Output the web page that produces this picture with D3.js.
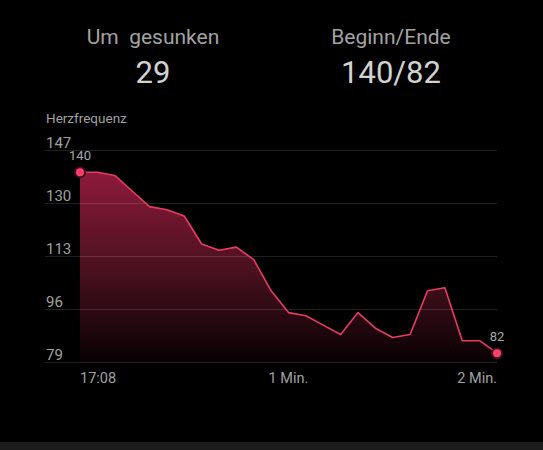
<!DOCTYPE html>
<html>
<head>
<meta charset="utf-8">
<script src="https://cdn.jsdelivr.net/npm/d3@7"></script>
<style>
  html, body { margin: 0; padding: 0; background: #000; overflow: hidden; }
  svg { display: block; font-family: Roboto, "Noto Sans", sans-serif; }
</style>
</head>
<body>
<div id="paper"></div>
<script>
// heart rate recovery chart, one sample every 5 s over 2 minutes

const heartRate = [140, 140, 139, 134, 129, 128, 126, 117, 115, 116, 112, 102, 95,
                   94, 91, 88, 95, 90, 87, 88, 102, 103, 86, 86, 82];
const stepSeconds = 5;
const yTicks = [147, 130, 113, 96, 79];
const xTicks = [0, 60, 120];
const xTickLabels = ["17:08", "1 Min.", "2 Min."];
const headTitles = ["Um  gesunken", "Beginn/Ende"];
const headValues = ["29", "140/82"];

const width = 543, height = 450;

const canvas = d3.select("#paper")
  .append("svg")
  .attr("width", width)
  .attr("height", height)
  .style("background-color", "#000");

const points = heartRate.map((v, i) => ({ t: i * stepSeconds, v: v }));

const x = d3.scaleLinear().domain([0, 120]).range([80, 497]);
const y = d3.scaleLinear().domain([79, 147]).range([362.5, 150.5]);

// header
const headX = [153, 391];
headTitles.forEach((t, i) => {
  canvas.append("text")
    .attr("x", headX[i]).attr("y", 44)
    .attr("text-anchor", "middle")
    .attr("font-size", 21)
    .attr("fill", "#a3a3a3")
    .style("white-space", "pre")
    .text(t);
  canvas.append("text")
    .attr("x", headX[i]).attr("y", 82.5)
    .attr("text-anchor", "middle")
    .attr("font-size", 31)
    .attr("fill", "#d2d2d2")
    .text(headValues[i]);
});

canvas.append("text")
  .attr("x", 46).attr("y", 123)
  .attr("font-size", 13.5)
  .attr("fill", "#a0a0a0")
  .text("Herzfrequenz");

// gradient for the area
const defs = canvas.append("defs");
const grad = defs.append("linearGradient")
  .attr("id", "fillGrad")
  .attr("gradientUnits", "userSpaceOnUse")
  .attr("x1", 0).attr("y1", y(140)).attr("x2", 0).attr("y2", y(79));
grad.append("stop").attr("offset", "0%").attr("stop-color", "#8e1a3a");
grad.append("stop").attr("offset", "55%").attr("stop-color", "#45101d");
grad.append("stop").attr("offset", "100%").attr("stop-color", "#080103");

const area = d3.area()
  .x(d => x(d.t))
  .y0(y(79))
  .y1(d => y(d.v));

canvas.append("path")
  .datum(points)
  .attr("d", area)
  .attr("fill", "url(#fillGrad)");

// grid + y labels
const grid = canvas.append("g");
grid.selectAll("line")
  .data(yTicks)
  .join("line")
  .attr("x1", 45).attr("x2", 497)
  .attr("y1", d => y(d)).attr("y2", d => y(d))
  .attr("stroke", "#ffffff")
  .attr("stroke-opacity", 0.13)
  .attr("stroke-width", 1);

grid.selectAll("text")
  .data(yTicks)
  .join("text")
  .attr("x", 46)
  .attr("y", d => y(d) - 3)
  .attr("font-size", 15)
  .attr("fill", "#a0a0a0")
  .text(d => d);

// line
const line = d3.line()
  .x(d => x(d.t))
  .y(d => y(d.v));

canvas.append("path")
  .datum(points)
  .attr("d", line)
  .attr("fill", "none")
  .attr("stroke", "#e83c63")
  .attr("stroke-width", 1.6)
  .attr("stroke-linejoin", "round");

// x labels
const anchors = ["start", "middle", "end"];
canvas.selectAll(".xl")
  .data(xTicks)
  .join("text")
  .attr("class", "xl")
  .attr("x", d => x(d))
  .attr("y", 383)
  .attr("text-anchor", (d, i) => anchors[i])
  .attr("font-size", 14.5)
  .attr("fill", "#a0a0a0")
  .text((d, i) => xTickLabels[i]);

// start / end markers
const ends = [points[0], points[points.length - 1]];
canvas.selectAll(".mk")
  .data(ends)
  .join("circle")
  .attr("class", "mk")
  .attr("cx", d => x(d.t))
  .attr("cy", d => y(d.v))
  .attr("r", 5)
  .attr("fill", "#ff3d6b")
  .attr("stroke", "#3a1520")
  .attr("stroke-width", 2);

canvas.selectAll(".mkl")
  .data(ends)
  .join("text")
  .attr("class", "mkl")
  .attr("x", d => x(d.t))
  .attr("y", d => y(d.v) - 12)
  .attr("text-anchor", "middle")
  .attr("font-size", 13)
  .attr("fill", "#a8a8a8")
  .text(d => d.v);

// bottom bar
canvas.append("rect")
  .attr("x", 0).attr("y", 442)
  .attr("width", width).attr("height", 8)
  .attr("fill", "#1c1c1c");
</script>
</body>
</html>
